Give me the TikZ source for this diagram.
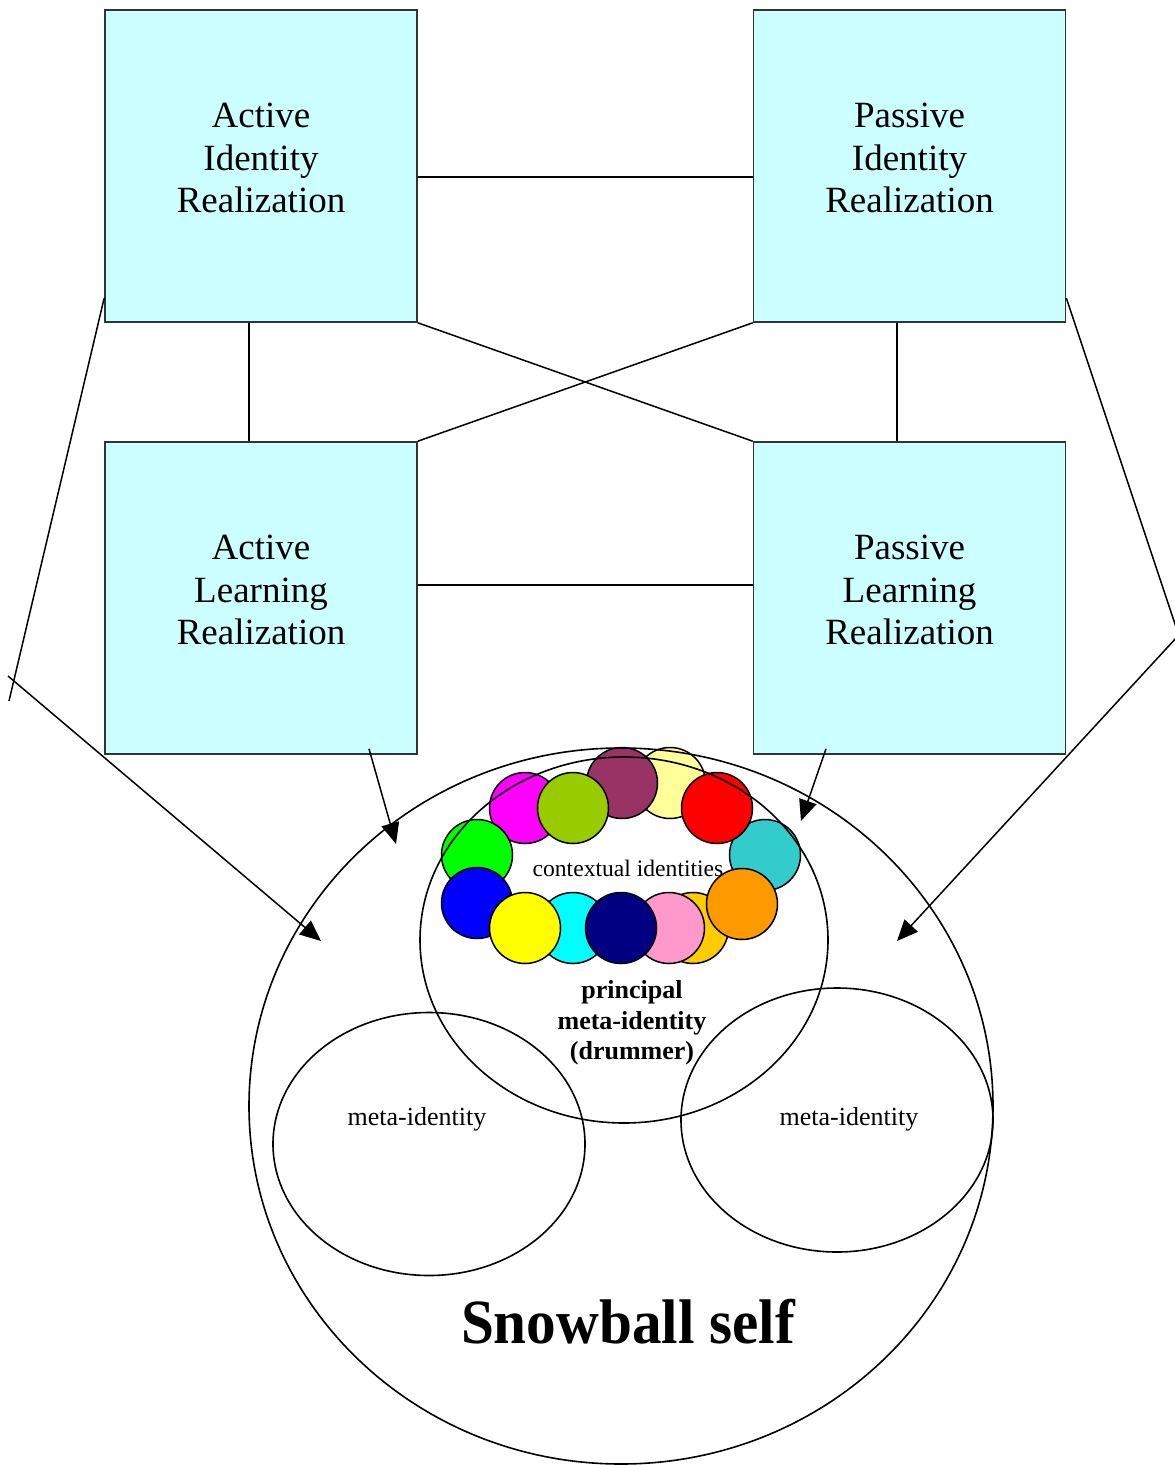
\documentclass[tikz,border=0pt]{standalone}
\usepackage{fontspec}
\setmainfont{Liberation Serif}
\usetikzlibrary{arrows.meta,calc}
\definecolor{boxcyan}{HTML}{CCFFFF}
\definecolor{cMagenta}{HTML}{FF00FF}
\definecolor{cGreen}{HTML}{00FF00}
\definecolor{cOlive}{HTML}{99CC00}
\definecolor{cPlum}{HTML}{993366}
\definecolor{cLightYellow}{HTML}{FFFF99}
\definecolor{cRed}{HTML}{FF0000}
\definecolor{cTeal}{HTML}{33CCCC}
\definecolor{cBlue}{HTML}{0000FF}
\definecolor{cYellow}{HTML}{FFFF00}
\definecolor{cCyan}{HTML}{00FFFF}
\definecolor{cNavy}{HTML}{000080}
\definecolor{cGold}{HTML}{FFCC00}
\definecolor{cPink}{HTML}{FF99CC}
\definecolor{cOrange}{HTML}{FF9900}
\tikzset{
  realbox/.style={draw=black!80, line width=1.6pt, fill=boxcyan, minimum width=312pt, minimum height=312pt, inner sep=0pt},
  boxtext/.style={align=center, font=\fontsize{37}{42.5}\selectfont, inner sep=0pt},
  link/.style={line width=1.5pt},
  arr/.style={line width=1.5pt, -{Triangle[length=21pt,width=18pt]}},
  ctx/.style={circle, draw, line width=1.5pt, minimum size=71pt, inner sep=0pt},
  ring/.style={line width=1.6pt},
}
\begin{document}
\begin{tikzpicture}[x=1pt,y=-1pt]
\useasboundingbox (0,0) rectangle (1175,1465);

% boxes
\node[realbox] (AIR) at (261,166) {};
\node[realbox] (PIR) at (909.5,166) {};
\node[realbox] (ALR) at (261,598) {};
\node[realbox] (PLR) at (909.5,598) {};
\node[boxtext] (AIRt) at ([yshift=8pt]AIR.center) {Active\\Identity\\Realization};
\node[boxtext] (PIRt) at ([yshift=8pt]PIR.center) {Passive\\Identity\\Realization};
\node[boxtext] (ALRt) at ([yshift=8pt]ALR.center) {Active\\Learning\\Realization};
\node[boxtext] (PLRt) at ([yshift=8pt]PLR.center) {Passive\\Learning\\Realization};

% connectors between boxes
\draw[link] ([yshift=-11pt]AIR.east) -- ([yshift=-11pt]PIR.west);
\draw[link] ([yshift=13pt]ALR.east) -- ([yshift=13pt]PLR.west);
\draw[link] ([xshift=-12pt]AIR.south) -- ([xshift=-12pt]ALR.north);
\draw[link] ([xshift=-12.5pt]PIR.south) -- ([xshift=-12.5pt]PLR.north);
\draw[link] (AIR.south east) -- (PLR.north west);
\draw[link] (PIR.south west) -- (ALR.north east);

% outer connectors
\coordinate (L1) at (9,701);
\coordinate (L2) at (8,676);
\coordinate (TL) at (321,941);
\coordinate (R1) at (1176,627);
\coordinate (R2) at (1177,637);
\coordinate (TR) at (897,941);
\coordinate (TA) at (396,844);
\coordinate (TP) at (801,821);
\draw[link] ([yshift=-132pt]AIR.west) -- (L1);
\draw[arr] (L2) -- (TL);
\draw[link] ([yshift=-132pt]PIR.east) -- (R1);
\draw[arr] (R2) -- (TR);
\draw[arr] ([xshift=108pt,yshift=6pt]ALR.south) -- (TA);
\draw[arr] ([xshift=-83.5pt,yshift=6pt]PLR.south) -- (TP);

% contextual identity circles
\node[ctx, fill=cLightYellow] (c1) at (670,783) {};
\node[ctx, fill=cPlum] (c2) at (622,783) {};
\node[ctx, fill=cMagenta] (c3) at (525,808) {};
\node[ctx, fill=cOlive] (c4) at (573,808) {};
\node[ctx, fill=cTeal] (c5) at (765,855) {};
\node[ctx, fill=cRed] (c6) at (717,808) {};
\node[ctx, fill=cGreen] (c7) at (477,855) {};
\node[ctx, fill=cBlue] (c8) at (477,903) {};
\node[ctx, fill=cCyan] (c9) at (573,928) {};
\node[ctx, fill=cYellow] (c10) at (525,928) {};
\node[ctx, fill=cGold] (c11) at (693,928) {};
\node[ctx, fill=cPink] (c12) at (669,928) {};
\node[ctx, fill=cNavy] (c13) at (621,928) {};
\node[ctx, fill=cOrange] (c14) at (742,904) {};

% ellipses
\draw[ring] (621,1106) ellipse [x radius=372, y radius=358];
\draw[ring] (624,940) ellipse [x radius=204, y radius=183];
\draw[ring] (429,1144) ellipse [x radius=156, y radius=131.5];
\draw[ring] (837,1120) ellipse [x radius=156, y radius=132];

% texts
\node[font=\fontsize{23.6}{27}\selectfont] (ctxt) at (628,868) {contextual identities};
\node[align=center, font=\fontsize{26}{30.5}\selectfont\bfseries] (pmi) at (632,1023) {principal\\meta-identity\\(drummer)};
\node[font=\fontsize{26}{30}\selectfont] (mi1) at (417,1119) {meta-identity};
\node[font=\fontsize{26}{30}\selectfont] (mi2) at (849,1119) {meta-identity};
\node[font=\fontsize{63}{70}\selectfont\bfseries] (sb) at (628,1322) {\scalebox{0.94}[1]{Snowball self}};
\end{tikzpicture}
\end{document}
